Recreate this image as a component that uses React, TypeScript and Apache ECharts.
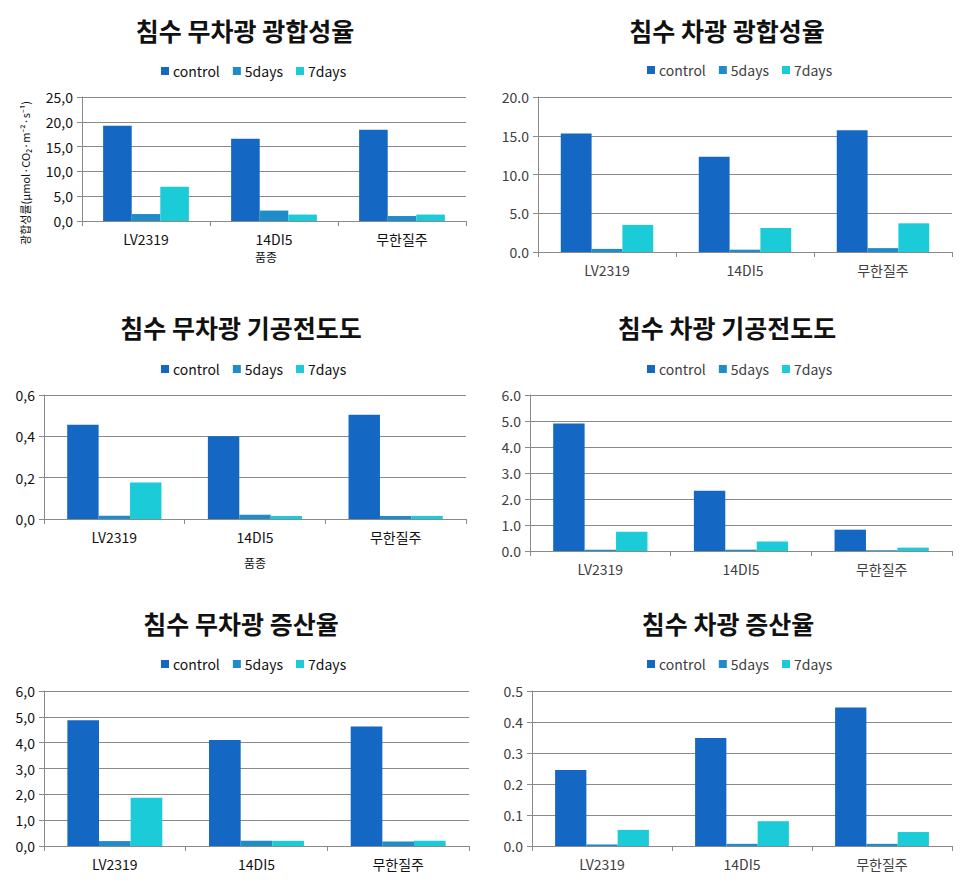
import React, { useEffect, useRef } from "react";
import * as echarts from "echarts";

const categories = ["LV2319", "14DI5", "무한질주"];
const seriesNames = ["control", "5days", "7days"];
const colors = ["#1467C2", "#1E8CC9", "#1BCBD8"];

const titles = [
  "침수 무차광 광합성율",
  "침수 차광 광합성율",
  "침수 무차광 기공전도도",
  "침수 차광 기공전도도",
  "침수 무차광 증산율",
  "침수 차광 증산율",
];

const p1Control = [19.2, 16.6, 18.4];
const p1Day5 = [1.4, 2.1, 1.0];
const p1Day7 = [6.9, 1.3, 1.3];

const p2Control = [15.3, 12.3, 15.7];
const p2Day5 = [0.4, 0.3, 0.5];
const p2Day7 = [3.5, 3.1, 3.7];

const p3Control = [0.456, 0.4, 0.505];
const p3Day5 = [0.016, 0.02, 0.015];
const p3Day7 = [0.177, 0.015, 0.015];

const p4Control = [4.9, 2.32, 0.82];
const p4Day5 = [0.05, 0.05, 0.03];
const p4Day7 = [0.74, 0.37, 0.13];

const p5Control = [4.87, 4.1, 4.63];
const p5Day5 = [0.19, 0.2, 0.17];
const p5Day7 = [1.87, 0.2, 0.2];

const p6Control = [0.245, 0.348, 0.447];
const p6Day5 = [0.005, 0.007, 0.007];
const p6Day7 = [0.052, 0.08, 0.045];

const yMax = [25, 20, 0.6, 6, 6, 0.5];
const yInterval = [5, 5, 0.2, 1, 1, 0.1];
const commaDecimal = [true, false, true, false, true, false];

const panelData = [
  [p1Control, p1Day5, p1Day7],
  [p2Control, p2Day5, p2Day7],
  [p3Control, p3Day5, p3Day7],
  [p4Control, p4Day5, p4Day7],
  [p5Control, p5Day5, p5Day7],
  [p6Control, p6Day5, p6Day7],
];

const FONT = "'Noto Sans CJK KR', 'Noto Sans', sans-serif";

// layout (px)
const grids = [
  { left: 82, top: 97, width: 384, height: 124 },
  { left: 538, top: 97, width: 414, height: 155 },
  { left: 44, top: 395, width: 422, height: 124 },
  { left: 530, top: 395, width: 422, height: 156 },
  { left: 44, top: 691, width: 425, height: 155 },
  { left: 532, top: 691, width: 420, height: 155 },
];
const titlePos = [
  [245, 30],
  [727, 30],
  [241, 327],
  [727, 327],
  [241, 623],
  [728, 623],
];
const legendPos = [
  [156, 59],
  [642, 58],
  [156, 357],
  [642, 357],
  [156, 652],
  [642, 652],
];

export default function App() {
  const ref = useRef<HTMLDivElement>(null);
  useEffect(() => {
    if (!ref.current) return;
    const chart = echarts.init(ref.current, undefined, { renderer: "svg" });
    const isLeft = (i: number) => i % 2 === 0;
    const option: any = {
      animation: false,
      backgroundColor: "#ffffff",
      textStyle: { fontFamily: FONT },
      grid: grids.map((g) => ({ ...g, containLabel: false })),
      legend: legendPos.map((p, i) => ({
        left: p[0],
        top: p[1],
        data: seriesNames,
        icon: "rect",
        itemWidth: 8,
        itemHeight: 8,
        itemGap: 13,
        selectedMode: false,
        textStyle: {
          fontFamily: FONT,
          fontSize: 14,
          padding: [0, 0, 0, -1],
          color: isLeft(i) ? "#111" : "#404040",
        },
      })),
      xAxis: grids.map((_, i) => ({
        type: "category",
        gridIndex: i,
        data: categories,
        axisLine: { show: true, lineStyle: { color: "#8a8a8a", width: 1 } },
        axisTick: { show: true, length: 5, lineStyle: { color: "#8a8a8a" } },
        axisLabel: {
          margin: 11,
          fontSize: 14,
          fontFamily: FONT,
          color: isLeft(i) ? "#111" : "#404040",
        },
        splitLine: { show: false },
      })),
      yAxis: grids.map((_, i) => ({
        type: "value",
        gridIndex: i,
        min: 0,
        max: yMax[i],
        interval: yInterval[i],
        axisLine: { show: true, lineStyle: { color: "#8a8a8a", width: 1 } },
        axisTick: { show: true, length: 5, lineStyle: { color: "#8a8a8a" } },
        axisLabel: {
          margin: 9,
          fontSize: 14,
          fontFamily: FONT,
          color: isLeft(i) ? "#111" : "#404040",
          formatter: (v: number) => {
            const s = v.toFixed(1);
            return commaDecimal[i] ? s.replace(".", ",") : s;
          },
        },
        splitLine: { show: true, lineStyle: { color: "#8a8a8a", width: 1 } },
      })),
      series: panelData.flatMap((arrs, i) =>
        arrs.map((vals, k) => ({
          type: "bar",
          name: seriesNames[k],
          xAxisIndex: i,
          yAxisIndex: i,
          data: vals,
          barGap: "0%",
          barCategoryGap: "33%",
          itemStyle: { color: colors[k] },
        }))
      ),
      graphic: [
        ...titles.map((t, i) => ({
          type: "text",
          x: titlePos[i][0],
          y: titlePos[i][1],
          style: {
            text: t,
            fontFamily: FONT,
            fontSize: 25,
            fontWeight: "bold",
            fill: "#111",
            textAlign: "center",
            textVerticalAlign: "middle",
          },
        })),
        {
          type: "text",
          x: 25,
          y: 173,
          rotation: Math.PI / 2,
          style: {
            text: "광합성률(μmol·CO₂·m⁻²·s⁻¹)",
            fontFamily: FONT,
            fontSize: 11,
            fill: "#111",
            textAlign: "center",
            textVerticalAlign: "middle",
          },
        },
        {
          type: "text",
          x: 266,
          y: 256,
          style: {
            text: "품종",
            fontFamily: FONT,
            fontSize: 12,
            fill: "#111",
            textAlign: "center",
            textVerticalAlign: "middle",
          },
        },
        {
          type: "text",
          x: 255,
          y: 562,
          style: {
            text: "품종",
            fontFamily: FONT,
            fontSize: 12,
            fill: "#111",
            textAlign: "center",
            textVerticalAlign: "middle",
          },
        },
      ],
    };
    chart.setOption(option);
    return () => chart.dispose();
  }, []);
  return (
    <div
      ref={ref}
      style={{
        position: "absolute",
        left: 0,
        top: 0,
        width: 968,
        height: 884,
        background: "#fff",
      }}
    />
  );
}
